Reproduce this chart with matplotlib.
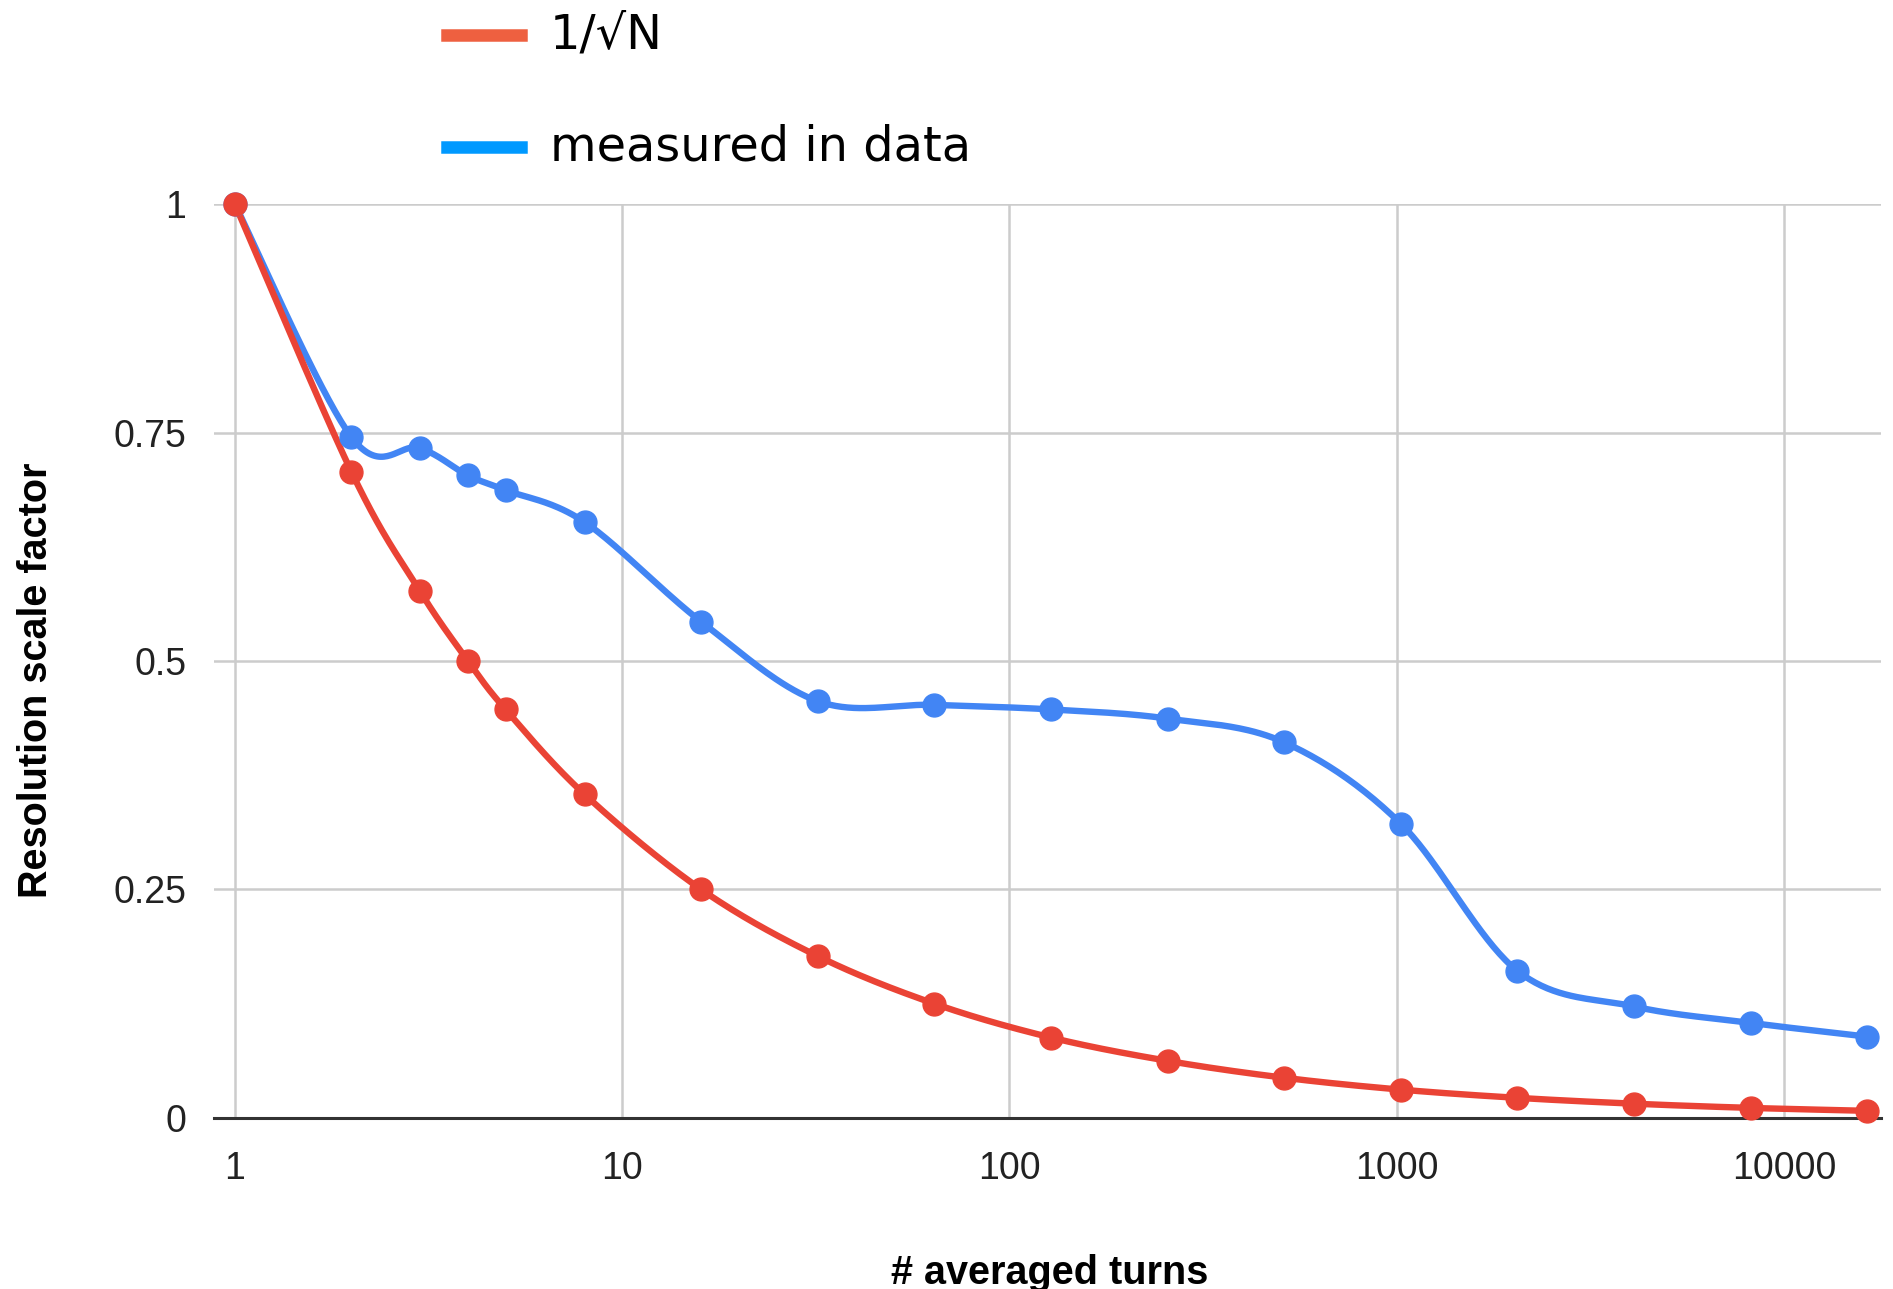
import numpy as np
import matplotlib
matplotlib.use("Agg")
import matplotlib.pyplot as plt
from matplotlib.lines import Line2D

# number of averaged turns and resolution scale factors
turns = [1, 2, 3, 4, 5, 8, 16, 32, 64, 128, 256, 512, 1024, 2048, 4096, 8192, 16384]
inv_sqrt_n = [1.0, 0.707, 0.577, 0.5, 0.447, 0.354, 0.25, 0.177, 0.125, 0.088,
              0.0625, 0.044, 0.031, 0.022, 0.0156, 0.011, 0.0078]
measured = [1.0, 0.745, 0.733, 0.703, 0.687, 0.652, 0.543, 0.456, 0.452, 0.447,
            0.437, 0.411, 0.322, 0.161, 0.122, 0.104, 0.089]

xticks = [1, 10, 100, 1000, 10000]
xtick_labels = ["1", "10", "100", "1000", "10000"]
yticks = [0, 0.25, 0.5, 0.75, 1]
ytick_labels = ["0", "0.25", "0.5", "0.75", "1"]

RED = "#ea4335"
BLUE = "#4285f4"

fig = plt.figure(figsize=(18.93, 12.89), dpi=100)
ax = fig.add_axes([0.113, 0.1327, 0.8807, 0.709])
ax.set_xscale("log")
ax.set_xlim(0.883, 17800)
ax.set_ylim(0, 1)

ax.set_xticks(xticks)
ax.set_xticklabels(xtick_labels)
ax.xaxis.set_minor_locator(matplotlib.ticker.NullLocator())
ax.set_yticks(yticks)
ax.set_yticklabels(ytick_labels)
ax.tick_params(length=0, labelsize=27, colors="#222222")
ax.tick_params(axis="y", pad=20)
ax.tick_params(axis="x", pad=24)
for lab in ax.get_xticklabels() + ax.get_yticklabels():
    lab.set_fontfamily("Liberation Sans")

ax.grid(True, color="#cccccc", linewidth=1.8)
ax.set_axisbelow(True)
for s in ["top", "right", "left"]:
    ax.spines[s].set_visible(False)
ax.spines["bottom"].set_color("#333333")
ax.spines["bottom"].set_linewidth(2.2)
ax.spines["bottom"].set_zorder(1.5)


def smooth_curve(ax, xs, ys, n=40):
    # Catmull-Rom curve through the points, computed in screen space
    P = ax.transData.transform(np.column_stack([xs, ys]))
    out = []
    for i in range(len(P) - 1):
        p0 = P[i - 1] if i > 0 else P[i]
        p1, p2 = P[i], P[i + 1]
        p3 = P[i + 2] if i + 2 < len(P) else P[i + 1]
        c1 = p1 + (p2 - p0) / 6.0
        c2 = p2 - (p3 - p1) / 6.0
        t = np.linspace(0, 1, n)[:, None]
        seg = ((1 - t) ** 3) * p1 + 3 * ((1 - t) ** 2) * t * c1 + 3 * (1 - t) * t ** 2 * c2 + t ** 3 * p2
        out.append(seg)
    pts = ax.transData.inverted().transform(np.vstack(out))
    return pts[:, 0], pts[:, 1]


for ys, col in [(measured, BLUE), (inv_sqrt_n, RED)]:
    sx, sy = smooth_curve(ax, turns, ys)
    ax.plot(sx, sy, color=col, linewidth=4.6, solid_capstyle="round", zorder=3, clip_on=False)
    ax.plot(turns, ys, "o", color=col, markersize=16.5, zorder=4, clip_on=False)

fig.text(0.5543, 0.0128, "# averaged turns", fontsize=28.5, fontweight="bold",
         family="Liberation Sans", ha="center", va="center")
fig.text(0.019, 0.472, "Resolution scale factor", rotation=90, fontsize=28.5,
         fontweight="bold", family=["Liberation Sans Narrow", "Liberation Sans"],
         ha="center", va="center")

# legend on top
for yfig, col, label in [(0.973, "#ee6040", "1/\u221aN"), (0.886, "#0099ff", "measured in data")]:
    fig.add_artist(Line2D([447 / 1893, 521 / 1893], [yfig, yfig], color=col,
                          linewidth=9, transform=fig.transFigure))
    fig.text(550 / 1893, yfig, label, fontsize=34.5, va="center", ha="left",
             family="DejaVu Sans")

fig.savefig("out.png", dpi=100)
